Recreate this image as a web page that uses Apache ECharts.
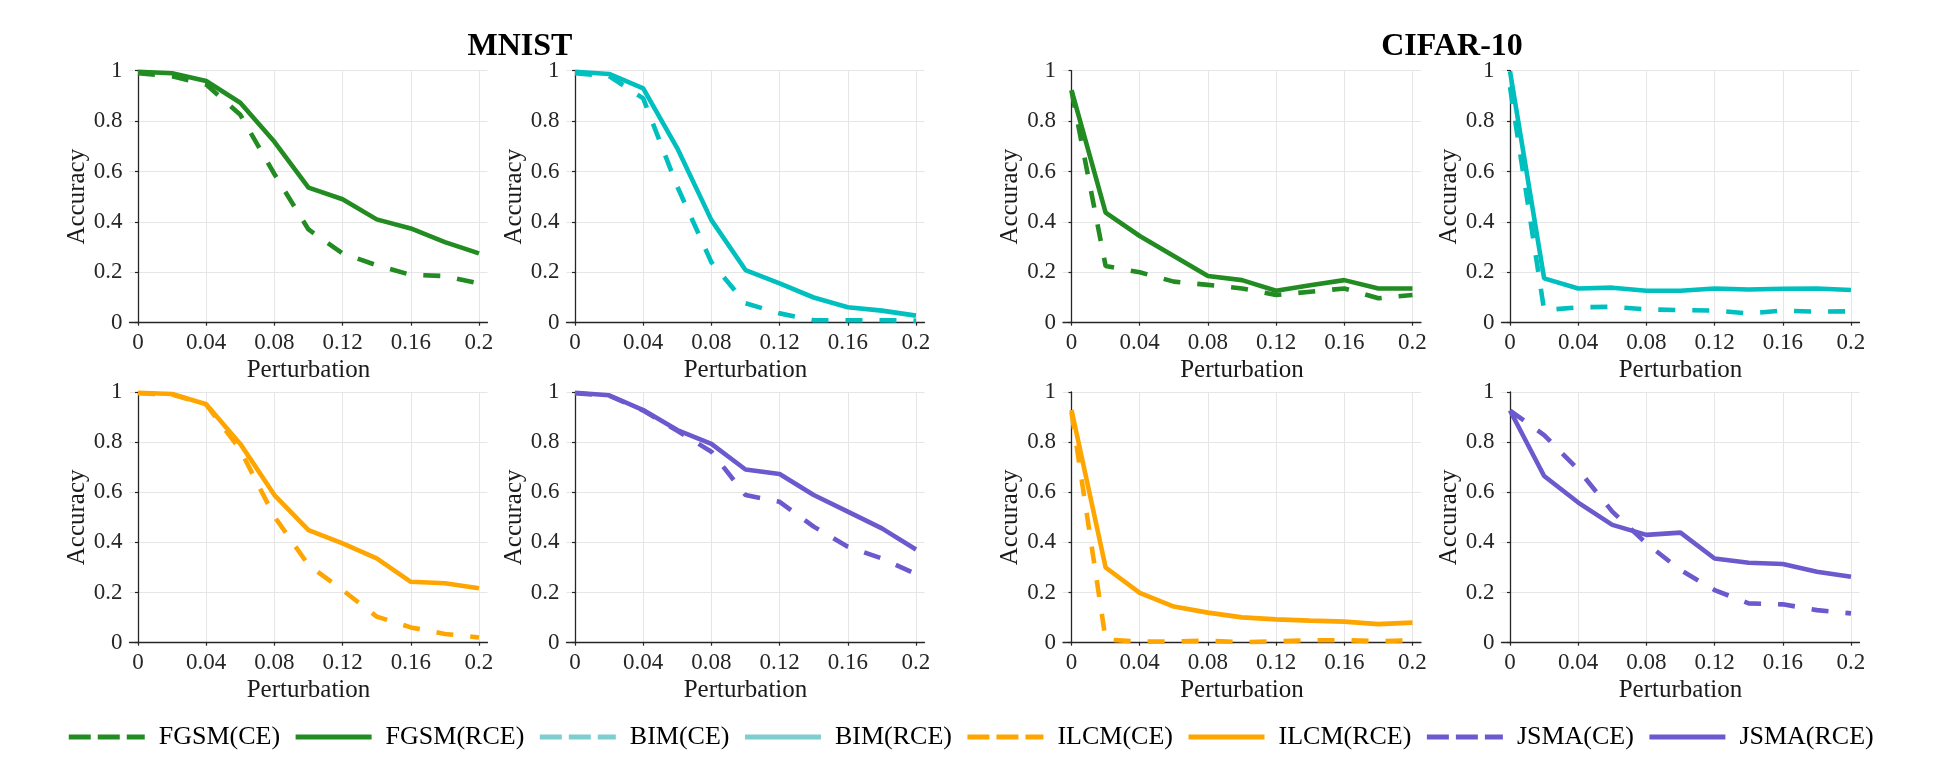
<!DOCTYPE html>
<html><head><meta charset="utf-8">
<script src="https://cdn.jsdelivr.net/npm/echarts@6/dist/echarts.min.js"></script>
<style>html,body{margin:0;padding:0;background:#fff}#c{width:1940px;height:757px}</style>
</head><body><div id="c"></div>
<script>
// ---- data ----
const perturbation = [0, 0.02, 0.04, 0.06, 0.08, 0.10, 0.12, 0.14, 0.16, 0.18, 0.20];
const xTickValues = [0, 0.04, 0.08, 0.12, 0.16, 0.2];
const datasetTitles = ['MNIST', 'CIFAR-10'];
const legendNames = ['FGSM(CE)', 'FGSM(RCE)', 'BIM(CE)', 'BIM(RCE)', 'ILCM(CE)', 'ILCM(RCE)', 'JSMA(CE)', 'JSMA(RCE)'];
const xAxisName = 'Perturbation';
const yAxisName = 'Accuracy';

const mnistFgsmCE  = [0.99, 0.978, 0.945, 0.825, 0.59, 0.37, 0.275, 0.228, 0.19, 0.185, 0.156];
const mnistFgsmRCE = [0.996, 0.99, 0.959, 0.873, 0.718, 0.536, 0.49, 0.41, 0.374, 0.32, 0.275];
const mnistBimCE   = [0.99, 0.979, 0.89, 0.54, 0.24, 0.077, 0.037, 0.01, 0.01, 0.01, 0.008];
const mnistBimRCE  = [0.996, 0.987, 0.93, 0.692, 0.407, 0.209, 0.156, 0.10, 0.061, 0.048, 0.028];
const cifarFgsmCE  = [0.92, 0.225, 0.2, 0.163, 0.15, 0.136, 0.11, 0.123, 0.136, 0.097, 0.11];
const cifarFgsmRCE = [0.923, 0.437, 0.344, 0.265, 0.185, 0.169, 0.127, 0.149, 0.169, 0.136, 0.136];
const cifarBimCE   = [0.935, 0.05, 0.061, 0.063, 0.053, 0.05, 0.048, 0.037, 0.048, 0.044, 0.045];
const cifarBimRCE  = [0.997, 0.176, 0.136, 0.139, 0.127, 0.127, 0.136, 0.132, 0.135, 0.136, 0.13];
const mnistIlcmCE  = [0.995, 0.99, 0.95, 0.769, 0.503, 0.31, 0.21, 0.104, 0.061, 0.035, 0.021];
const mnistIlcmRCE = [0.997, 0.992, 0.951, 0.793, 0.589, 0.449, 0.396, 0.336, 0.243, 0.237, 0.217];
const mnistJsmaCE  = [0.995, 0.985, 0.926, 0.845, 0.762, 0.589, 0.562, 0.463, 0.383, 0.336, 0.274];
const mnistJsmaRCE = [0.997, 0.987, 0.928, 0.848, 0.793, 0.691, 0.673, 0.589, 0.523, 0.456, 0.372];
const cifarIlcmCE  = [0.92, 0.013, 0.004, 0.005, 0.008, 0.002, 0.005, 0.01, 0.01, 0.006, 0.01];
const cifarIlcmRCE = [0.928, 0.30, 0.199, 0.144, 0.12, 0.101, 0.093, 0.088, 0.084, 0.074, 0.08];
const cifarJsmaCE  = [0.926, 0.828, 0.691, 0.523, 0.396, 0.29, 0.21, 0.157, 0.153, 0.13, 0.117];
const cifarJsmaRCE = [0.926, 0.665, 0.559, 0.47, 0.43, 0.439, 0.336, 0.319, 0.314, 0.283, 0.263];

// ---- styling ----
const FONT = 'Liberation Serif, Times New Roman, serif';
const colors = { FGSM: '#228b22', BIM: '#00bfbf', ILCM: '#ffa500', JSMA: '#6a5acd' };
const legendColors = { FGSM: '#228b22', BIM: '#7ecdd1', ILCM: '#ffa500', JSMA: '#6a5acd' };
const colLefts = [129.5, 566.5, 1063, 1501.5];
const gridWidth = 358;
const rowTops = [70.7, 392];
const rowHeights = [252, 250.7];

const panels = [
  { row: 0, col: 0, attack: 'FGSM', ce: mnistFgsmCE, rce: mnistFgsmRCE },
  { row: 0, col: 1, attack: 'BIM',  ce: mnistBimCE,  rce: mnistBimRCE },
  { row: 0, col: 2, attack: 'FGSM', ce: cifarFgsmCE, rce: cifarFgsmRCE },
  { row: 0, col: 3, attack: 'BIM',  ce: cifarBimCE,  rce: cifarBimRCE },
  { row: 1, col: 0, attack: 'ILCM', ce: mnistIlcmCE, rce: mnistIlcmRCE },
  { row: 1, col: 1, attack: 'JSMA', ce: mnistJsmaCE, rce: mnistJsmaRCE },
  { row: 1, col: 2, attack: 'ILCM', ce: cifarIlcmCE, rce: cifarIlcmRCE },
  { row: 1, col: 3, attack: 'JSMA', ce: cifarJsmaCE, rce: cifarJsmaRCE }
];

const fmt = v => String(+(+v).toFixed(2));
const axisColor = '#262626';
const gridColor = '#e6e6e6';

const grids = [], xAxes = [], yAxes = [], series = [];
panels.forEach((p, i) => {
  grids.push({ left: colLefts[p.col], top: rowTops[p.row], width: gridWidth, height: rowHeights[p.row], containLabel: false });
  xAxes.push({
    gridIndex: i, type: 'value', min: -0.005, max: 0.205,
    axisLine: { show: true, onZero: false, lineStyle: { color: axisColor, width: 1.3 } },
    axisTick: { show: true, length: 3, customValues: xTickValues, lineStyle: { color: axisColor, width: 1.2 } },
    axisLabel: { customValues: xTickValues, formatter: fmt, fontFamily: FONT, fontSize: 23, color: axisColor, margin: 9 },
    splitLine: { show: true, lineStyle: { color: gridColor, width: 1 } },
    name: xAxisName, nameLocation: 'middle', nameGap: 35,
    nameTextStyle: { fontFamily: FONT, fontSize: 25, color: '#1a1a1a' }
  });
  yAxes.push({
    gridIndex: i, type: 'value', min: 0, max: 1, interval: 0.2,
    axisLine: { show: true, lineStyle: { color: axisColor, width: 1.3 } },
    axisTick: { show: true, length: 3, lineStyle: { color: axisColor, width: 1.2 } },
    axisLabel: { formatter: fmt, fontFamily: FONT, fontSize: 23, color: axisColor, margin: 7 },
    splitLine: { show: true, lineStyle: { color: gridColor, width: 1 } },
    name: yAxisName, nameLocation: 'middle', nameGap: 39, nameRotate: 90,
    nameTextStyle: { fontFamily: FONT, fontSize: 25, color: '#1a1a1a' }
  });
  const mk = (arr, dashed) => ({
    name: p.attack + (dashed ? '(CE)' : '(RCE)'),
    type: 'line', xAxisIndex: i, yAxisIndex: i,
    data: perturbation.map((x, k) => [x, arr[k]]),
    symbol: 'none', showSymbol: false, silent: true,
    lineStyle: { color: colors[p.attack], width: 4.6, type: dashed ? [17, 17] : 'solid' },
    itemStyle: { color: colors[p.attack] },
    emphasis: { disabled: true }
  });
  series.push(mk(p.ce, true));
  series.push(mk(p.rce, false));
});

const legendData = legendNames.map(n => {
  const atk = n.split('(')[0];
  const dashed = n.indexOf('(CE)') >= 0;
  return {
    name: n,
    itemStyle: { opacity: 0, borderWidth: 0 },
    lineStyle: { color: legendColors[atk], width: 5, type: dashed ? [22, 7] : 'solid' }
  };
});

const option = {
  backgroundColor: '#fff',
  animation: false,
  title: [
    { text: datasetTitles[0], left: 520, top: 31, textAlign: 'center', padding: 0,
      textStyle: { fontFamily: FONT, fontWeight: 'bold', fontSize: 32, color: '#000' } },
    { text: datasetTitles[1], left: 1452, top: 31, textAlign: 'center', padding: 0,
      textStyle: { fontFamily: FONT, fontWeight: 'bold', fontSize: 32, color: '#000' } }
  ],
  legend: {
    data: legendData, left: 'center', top: 724, orient: 'horizontal',
    itemWidth: 76, itemHeight: 14, itemGap: 13, padding: 0,
    selectedMode: false,
    itemStyle: { opacity: 0, borderWidth: 0 },
    textStyle: { fontFamily: FONT, fontSize: 26, color: '#000', padding: [0, 0, 0, 9] }
  },
  grid: grids, xAxis: xAxes, yAxis: yAxes, series: series
};

const chart = echarts.init(document.getElementById('c'), null, { renderer: 'canvas' });
chart.setOption(option);
</script></body></html>
